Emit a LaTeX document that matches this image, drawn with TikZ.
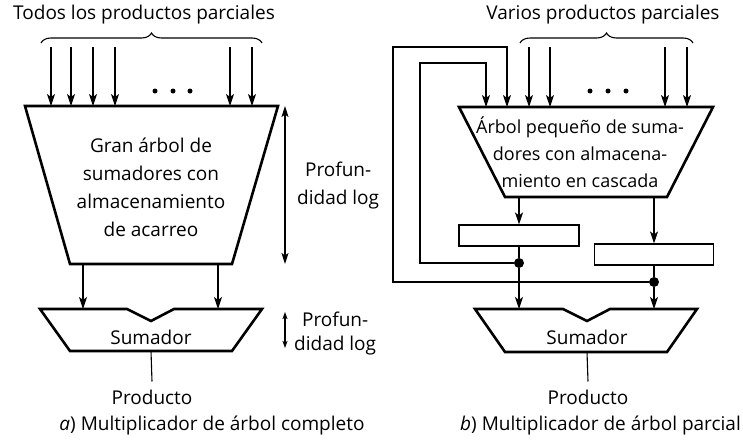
\documentclass[tikz,border=0pt]{standalone}
\usepackage{fontspec}
\setmainfont{Open Sans}
\usetikzlibrary{positioning,arrows.meta,calc,decorations.pathreplacing}

\begin{document}
\begin{tikzpicture}[
    x=1pt,y=-1pt,
    every node/.style={font=\fontsize{19}{28}\selectfont,align=center,inner sep=0pt},
    unit/.style={draw,line width=2.6pt,line join=miter},
    reg/.style={rectangle,draw,line width=1.1pt,minimum height=21pt},
    wire/.style={line width=1.1pt},
    arrow/.style={-{Stealth[length=12pt,width=8pt,inset=3pt]},line width=1.1pt},
    dbl/.style={{Stealth[length=11pt,width=7pt,inset=2.5pt]}-{Stealth[length=11pt,width=7pt,inset=2.5pt]},line width=1.1pt},
    sdbl/.style={{Stealth[length=7pt,width=5pt,inset=1.5pt]}-{Stealth[length=7pt,width=5pt,inset=1.5pt]},line width=1.1pt},
    brc/.style={decorate,decoration={brace,amplitude=10pt},line width=1.1pt},
    joint/.style={circle,fill,inner sep=0pt,minimum size=10pt},
]
\useasboundingbox (0,0) rectangle (743,447);

% a) arbol completo
\node (ttla) at (144,15) {Todos los productos parciales};
\draw[brc] (41,43) -- (262,43);
\draw[unit] (25,106) coordinate (bigtl) -- (278,106) coordinate (bigtr)
    -- (232,264) coordinate (bigbr) -- (70,264) coordinate (bigbl) -- cycle;
\node (big) at (151,187) {Gran árbol de\\sumadores con\\almacenamiento\\de acarreo};
\foreach \x [count=\i] in {51,71,93,115,230,252} {
    \coordinate (ina\i) at (\x,47);
    \draw[arrow] (ina\i) -- (ina\i |- bigtl);
}
\foreach \x in {155,173,190} \fill (\x,91) circle (2.5pt);

\draw[unit] (40,309) coordinate (adatl) -- (127,309) -- (151,321) -- (174,309)
    -- (262,309) -- (232,351) -- (70,351) coordinate (adabl) -- cycle;
\node (suma) at (151,337) {Sumador};
\coordinate (outa1) at (83,264);
\coordinate (outa2) at (218,264);
\draw[arrow] (outa1) -- (outa1 |- adatl);
\draw[arrow] (outa2) -- (outa2 |- adatl);
\coordinate (resa) at (151,351);
\node (proda) at (152,397) {Producto};
\draw[wire] (resa) -- ($(proda.north)+(0,-8)$);

\coordinate (deptop) at (285,106);
\coordinate (depbot) at (285,264);
\draw[dbl] (deptop) -- (depbot);
\node[anchor=west] (depa) at (297,186) {Profun-\\didad log};
\coordinate (sdtop) at (285,312);
\coordinate (sdbot) at (285,348);
\draw[sdbl] (sdtop) -- (sdbot);
\node[anchor=west,font=\fontsize{19}{24}\selectfont] (depb) at (294,334) {Profun-\\didad log};

\node (capa) at (212,425) {\textit{a}) Multiplicador de árbol completo};

% b) arbol parcial
\node (ttlb) at (603,15) {Varios productos parciales};
\draw[brc] (520,43) -- (693,43);
\draw[unit] (459,107) coordinate (smtl) -- (713,107) -- (667,197)
    -- (505,197) coordinate (smbl) -- cycle;
\node[font=\fontsize{18}{27}\selectfont] (small) at (580,152)
    {Árbol pequeño de suma-\\dores con almacena-\\miento en cascada};
\foreach \x [count=\i] in {529,550,665,687} {
    \coordinate (inb\i) at (\x,47);
    \draw[arrow] (inb\i) -- (inb\i |- smtl);
}
\foreach \x in {590,608,626} \fill (\x,91) circle (2.5pt);

\node[reg,minimum width=120pt] (reg1) at (519,235.5) {};
\node[reg,minimum width=119pt] (reg2) at (654,254.5) {};
\coordinate (outb1) at (519,197);
\coordinate (outb2) at (654,197);
\draw[arrow] (outb1) -- (reg1.north);
\draw[arrow] (outb2) -- (reg2.north);

\draw[unit] (475,309) coordinate (adbtl) -- (563,309) -- (587,321) -- (610,309)
    -- (697,309) -- (667,352) -- (505,352) -- cycle;
\node (sumb) at (587,337) {Sumador};

\node[joint] (j1) at (519,263) {};
\node[joint] (j2) at (654,282) {};
\draw[wire] (reg1.south) -- (j1);
\draw[wire] (reg2.south) -- (j2);
\draw[arrow] (j1) -- (j1 |- adbtl);
\draw[arrow] (j2) -- (j2 |- adbtl);

\coordinate (lpi) at (420,63);
\coordinate (lpo) at (393,47);
\coordinate (fbi) at (486,107);
\coordinate (fbo) at (507,107);
\draw[arrow] (j1) -| (lpi) -| (fbi);
\draw[arrow] (j2) -| (lpo) -| (fbo);

\coordinate (resb) at (587,352);
\node (prodb) at (588,397) {Producto};
\draw[wire] (resb) -- ($(prodb.north)+(0,-8)$);

\node[anchor=east] (capb) at (741,425) {\textit{b}) Multiplicador de árbol parcial};
\end{tikzpicture}
\end{document}
